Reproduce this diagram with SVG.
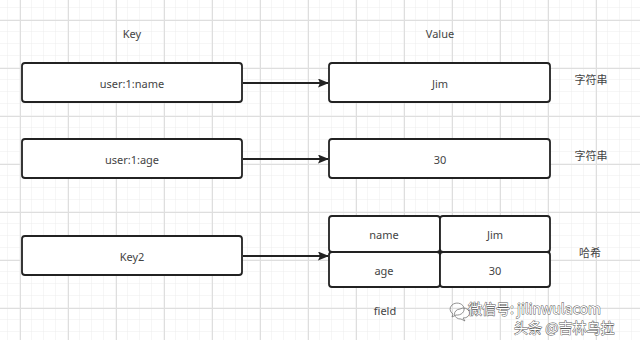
<svg xmlns="http://www.w3.org/2000/svg" width="640" height="340" viewBox="0 0 640 340">
<defs>
<pattern id="minor" x="8" y="8" width="12" height="12" patternUnits="userSpaceOnUse">
<path d="M12 0V12M0 12H12" fill="none" stroke="#ececec" stroke-width="1"/>
</pattern>
<pattern id="major" x="20" y="20" width="48" height="48" patternUnits="userSpaceOnUse">
<path d="M0.5 0V48M0 0.5H48" fill="none" stroke="#dedede" stroke-width="1"/>
</pattern>
<marker id="arr" markerWidth="11" markerHeight="9" refX="10" refY="4.5" orient="auto" markerUnits="userSpaceOnUse">
<path d="M0 0L11 4.5L0 9L2 4.5Z" fill="#222"/>
</marker>
</defs>
<style>
.box{fill:#fff;stroke:#222;stroke-width:1.8}
.t{font-family:"Noto Sans","Noto Sans CJK SC",sans-serif;font-size:11px;fill:#444;text-anchor:middle;dominant-baseline:central}
.c{font-family:"Noto Sans CJK SC","Noto Sans",sans-serif;font-size:11px;fill:#444;text-anchor:middle;dominant-baseline:central}
.edge{stroke:#222;stroke-width:1.8;fill:none;marker-end:url(#arr)}
.wm{font-family:"Noto Sans CJK SC",sans-serif;font-size:14px;fill:#fff;stroke:#555;stroke-width:0.9;paint-order:stroke}
</style>
<rect width="640" height="340" fill="#fff"/>
<rect width="640" height="340" fill="url(#minor)"/>
<rect width="640" height="340" fill="url(#major)"/>
<text class="t" x="132" y="33">Key</text>
<text class="t" x="440" y="33">Value</text>
<g id="k1"><rect class="box" x="22" y="63" width="220" height="39" rx="3"/><text class="t" x="132" y="83">user:1:name</text></g>
<g id="v1"><rect class="box" x="329" y="63" width="221" height="39" rx="3"/><text class="t" x="440" y="83">Jim</text></g>
<g id="k2"><rect class="box" x="22" y="139" width="220" height="39" rx="3"/><text class="t" x="132" y="159">user:1:age</text></g>
<g id="v2"><rect class="box" x="329" y="139" width="221" height="39" rx="3"/><text class="t" x="440" y="159">30</text></g>
<g id="k3"><rect class="box" x="22" y="236" width="220" height="39" rx="3"/><text class="t" x="132" y="256">Key2</text></g>
<g id="h1"><rect class="box" x="329" y="216" width="111" height="36" rx="3"/><text class="t" x="384" y="234">name</text></g>
<g id="h2"><rect class="box" x="440" y="216" width="110" height="36" rx="3"/><text class="t" x="495" y="234">Jim</text></g>
<g id="h3"><rect class="box" x="329" y="252" width="111" height="35" rx="3"/><text class="t" x="384" y="270">age</text></g>
<g id="h4"><rect class="box" x="440" y="252" width="110" height="35" rx="3"/><text class="t" x="495" y="270">30</text></g>
<g id="connectors">
<line class="edge" x1="243" y1="83" x2="328" y2="83"/>
<line class="edge" x1="243" y1="159" x2="328" y2="159"/>
<line class="edge" x1="243" y1="256" x2="328" y2="256"/>
</g>
<text class="c" x="591" y="79">字符串</text>
<text class="c" x="591" y="155">字符串</text>
<text class="c" x="590" y="252">哈希</text>
<text class="t" x="385" y="310">field</text>
<g id="watermark">
<path d="M452 305a7 6 0 1 1 4 10l-4 2 1-3a7 6 0 0 1-1-9z" fill="none" stroke="#777" stroke-width="0.8"/>
<path d="M460 309a6 5 0 1 1 3 9l2 3-4-2a6 5 0 0 1-1-10z" fill="none" stroke="#777" stroke-width="0.8"/>
<text class="wm" x="468" y="314">微信号: jilinwulacom</text>
<text class="wm" x="514" y="333">头条 @吉林乌拉</text>
</g>
</svg>
